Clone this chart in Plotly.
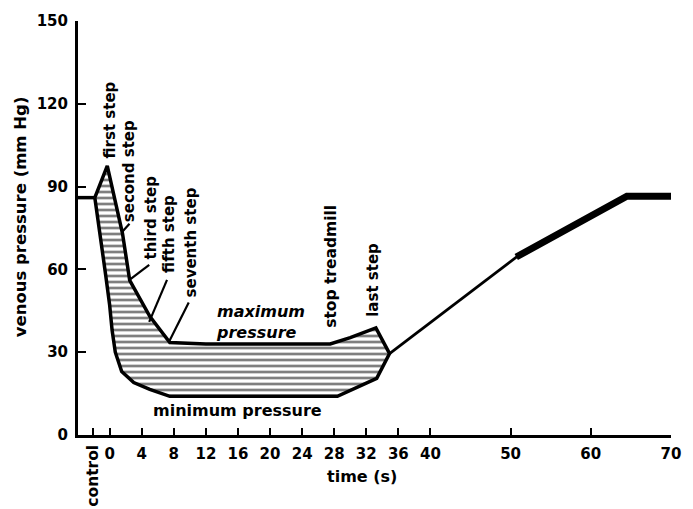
import plotly.graph_objects as go

# Time axis (s) and venous pressure (mm Hg)
ctrl_t = [-3.95, -1.85]
ctrl_p = [86, 86]

# Maximum pressure envelope during walking
upper_t = [-1.85, -0.3, 1.6, 2.5, 5.0, 7.5, 12, 20, 27.5, 30, 33.2, 34.9]
upper_p = [86, 97.5, 73, 56, 43, 33.5, 33, 33, 33, 35.3, 38.8, 29.5]

# Minimum pressure envelope during walking
lower_t = [-1.85, -1.2, -0.5, 0, 0.3, 0.7, 1.5, 3, 5, 7.5, 28.4, 33.3, 34.9]
lower_p = [86, 72, 58, 47, 38, 30, 23, 19, 16.5, 14, 14, 20.5, 29.5]

# Recovery after stopping
rec_thin_t = [34.9, 51.2]
rec_thin_p = [29.5, 65.5]
rec_thick_t = [50.7, 64.5, 70]
rec_thick_p = [64.5, 86.5, 86.5]

x_ticks = [-2.1, 0, 4, 8, 12, 16, 20, 24, 28, 32, 36, 40, 50, 60, 70]
x_ticktext = ["", "0", "4", "8", "12", "16", "20", "24", "28", "32", "36", "40", "50", "60", "70"]
y_ticks = [0, 30, 60, 90, 120, 150]

step_names = ["first step", "second step", "third step", "fifth step",
              "seventh step", "stop treadmill", "last step"]

FONT = "DejaVu Sans"
BOLD = dict(family=FONT, color="black", weight="bold")

fig = go.Figure()

# hatched band between the two envelopes
band_t = upper_t + lower_t[::-1]
band_p = upper_p + lower_p[::-1]
fig.add_trace(go.Scatter(
    x=band_t, y=band_p, mode="lines", fill="toself",
    fillcolor="white",
    fillpattern=dict(shape="-", size=6, solidity=0.45,
                     fgcolor="black", bgcolor="white"),
    line=dict(color="black", width=3.5), hoverinfo="skip"))

fig.add_trace(go.Scatter(x=ctrl_t, y=ctrl_p, mode="lines",
                         line=dict(color="black", width=3.5), hoverinfo="skip"))
fig.add_trace(go.Scatter(x=rec_thin_t, y=rec_thin_p, mode="lines",
                         line=dict(color="black", width=2.8), hoverinfo="skip"))
fig.add_trace(go.Scatter(x=rec_thick_t, y=rec_thick_p, mode="lines",
                         line=dict(color="black", width=7), hoverinfo="skip"))

# vertical step labels: (x, bottom y, size)
label_pos = [(0.0, 99.5, 15), (2.45, 76.5, 15), (5.2, 63, 15), (7.4, 58, 15),
             (10.1, 49, 15), (27.5, 38, 15.5), (32.8, 42, 15)]
annotations = []
for name, (lx, ly, fs) in zip(step_names, label_pos):
    annotations.append(dict(x=lx, y=ly, xref="x", yref="y", text=name,
                            textangle=-90, showarrow=False,
                            xanchor="center", yanchor="bottom",
                            font=dict(BOLD, size=fs)))

annotations += [
    dict(x=13.0, y=41, xref="x", yref="y", text="maximum<br>pressure",
         showarrow=False, xanchor="left", yanchor="middle", align="left",
         font=dict(BOLD, size=16, style="italic")),
    dict(x=16, y=9, xref="x", yref="y", text="minimum pressure",
         showarrow=False, xanchor="center", yanchor="middle",
         font=dict(BOLD, size=16)),
    dict(x=-2.1, y=-0.019, xref="x", yref="paper", text="control",
         textangle=-90, showarrow=False, xanchor="center", yanchor="top",
         font=dict(BOLD, size=15.5)),
    dict(x=31.5, y=-0.073, xref="x", yref="paper", text="time (s)",
         showarrow=False, xanchor="center", yanchor="top",
         font=dict(BOLD, size=16)),
    dict(x=-0.097, y=0.527, xref="paper", yref="paper",
         text="venous pressure (mm Hg)", textangle=-90, showarrow=False,
         xanchor="center", yanchor="middle", font=dict(BOLD, size=16.5)),
]

# leader lines from labels to the curve
leaders = [((2.47, 76.5), (1.6, 73.7)),
           ((4.93, 61.6), (2.47, 56.2)),
           ((7.15, 56.2), (4.93, 41)),
           ((9.86, 48), (7.4, 33.8))]
shapes = [dict(type="line", xref="x", yref="y", x0=a[0], y0=a[1], x1=b[0], y1=b[1],
               line=dict(color="black", width=2.2)) for a, b in leaders]

fig.update_layout(
    width=693, height=509,
    margin=dict(l=78, r=15, t=14, b=74, pad=0),
    plot_bgcolor="white", paper_bgcolor="white",
    showlegend=False,
    annotations=annotations, shapes=shapes,
    xaxis=dict(range=[-3.95, 70], showgrid=False, zeroline=False,
               showline=True, linecolor="black", linewidth=3,
               ticks="inside", ticklen=7, tickwidth=2, tickcolor="black",
               tickvals=x_ticks, ticktext=x_ticktext, ticklabelstandoff=3,
               tickfont=dict(BOLD, size=15)),
    yaxis=dict(range=[0, 150], showgrid=False, zeroline=False,
               showline=True, linecolor="black", linewidth=3,
               ticks="inside", ticklen=8, tickwidth=2, tickcolor="black",
               tickvals=y_ticks, ticklabelstandoff=4,
               tickfont=dict(BOLD, size=15)),
)

fig.write_html("out.html")
